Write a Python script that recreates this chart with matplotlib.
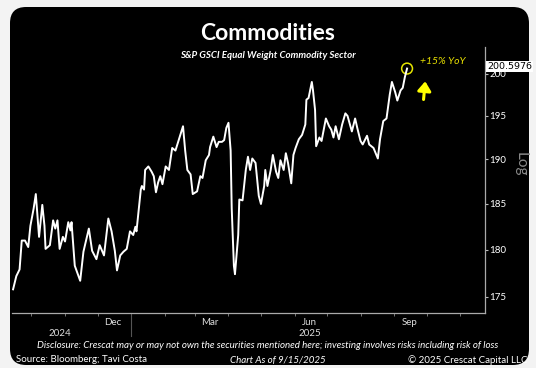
import pandas as pd
import numpy as np
import matplotlib.pyplot as plt
import matplotlib.dates as mdates
from matplotlib.patches import FancyBboxPatch, Ellipse
from matplotlib.ticker import FixedLocator, FixedFormatter, NullLocator

plt.rcParams['font.family'] = ['Lato', 'DejaVu Sans']

# S&P GSCI Equal Weight Commodity Sector
start = pd.Timestamp('2024-09-13')
day_offsets = [1, 4, 7, 9, 12, 15, 17, 20, 22, 23, 25, 28, 30, 31, 35, 38, 40, 42, 44, 47,
               49, 52, 54, 55, 58, 63, 66, 71, 74, 78, 81, 85, 89, 92, 95, 97, 100, 103, 106, 109,
               112, 114, 115, 119, 120, 122, 123, 126, 129, 131, 133, 135, 137, 139, 142, 145, 148, 151, 152, 156,
               158, 160, 162, 165, 167, 171, 174, 176, 179, 182, 183, 186, 189, 191, 194, 196, 198, 200, 202, 203,
               205, 206, 209, 210, 213, 216, 218, 220, 222, 225, 228, 230, 233, 234, 236, 239, 241, 244, 246, 248,
               251, 253, 255, 258, 260, 262, 265, 268, 271, 272, 274, 277, 278, 280, 281, 284, 286, 290, 293, 295,
               297, 299, 302, 305, 308, 310, 314, 317, 319, 322, 324, 328, 330, 334, 338, 340, 343, 346, 349, 351,
               354, 356, 359, 361, 363, 365]
prices = [175.8, 177.2, 177.9, 181.0, 181.0, 180.3, 182.6, 184.5, 186.1, 184.5, 181.4, 184.9, 182.6, 180.1, 180.5, 183.2, 182.3, 183.2, 180.1, 181.4,
          180.9, 183.0, 182.1, 183.0, 178.3, 176.7, 179.8, 182.3, 179.9, 179.0, 180.5, 179.4, 183.4, 182.0, 179.9, 177.8, 179.4, 179.8, 180.1, 182.0,
          181.6, 182.5, 182.0, 186.6, 187.0, 186.6, 188.8, 189.2, 188.6, 188.1, 186.3, 187.4, 188.1, 187.2, 189.2, 188.8, 191.3, 191.0, 191.4, 193.0,
          193.8, 191.0, 188.8, 188.3, 186.1, 186.4, 188.1, 187.9, 189.9, 190.5, 191.4, 192.6, 191.4, 192.0, 192.0, 192.2, 193.6, 194.2, 191.0, 184.5,
          178.3, 177.4, 181.6, 185.5, 185.4, 188.8, 190.3, 188.8, 190.1, 189.6, 185.9, 185.0, 187.0, 188.8, 187.0, 188.8, 190.5, 188.6, 187.9, 189.9,
          188.8, 190.7, 189.6, 187.3, 190.5, 191.3, 192.3, 192.8, 194.0, 196.9, 197.1, 199.0, 198.1, 195.7, 191.5, 192.5, 192.1, 194.7, 193.8, 193.4,
          192.5, 193.8, 192.3, 194.0, 195.3, 195.0, 193.2, 194.7, 193.6, 192.1, 191.7, 192.7, 191.7, 191.3, 190.1, 192.3, 194.4, 194.7, 197.5, 199.0,
          197.8, 196.8, 198.0, 198.3, 199.6, 200.6]
last_value = 200.5976

y_ticks = [175, 180, 185, 190, 195, 200]
month_labels = ['Dec', 'Mar', 'Jun', 'Sep']
month_label_dates = ['2024-12-15', '2025-03-15', '2025-06-15', '2025-09-15']
year_labels = ['2024', '2025']
year_label_dates = ['2024-10-27', '2025-06-15']

dates = start + pd.to_timedelta(day_offsets, unit='D')

fig = plt.figure(figsize=(5.36, 3.68), dpi=100)
fig.patch.set_facecolor('#f3f3f3')

# black rounded panel
panel = FancyBboxPatch((10 / 536, 3 / 368), 519 / 536, 358 / 368,
                       boxstyle='round,pad=0,rounding_size=0.03',
                       transform=fig.transFigure, facecolor='black',
                       edgecolor='none', zorder=-5, mutation_aspect=536 / 368)
fig.patches.append(panel)

ax = fig.add_axes([12 / 536, 1 - 313 / 368, 473 / 536, 266 / 368])
ax.set_zorder(2)
ax.set_facecolor('black')
ax.plot(dates, prices, color='white', lw=1.4)

ax.set_yscale('log')
ax.set_ylim(173.33, 203.2)
ax.yaxis.set_major_locator(FixedLocator(y_ticks))
ax.yaxis.set_major_formatter(FixedFormatter([str(t) for t in y_ticks]))
ax.yaxis.set_minor_locator(NullLocator())
ax.yaxis.tick_right()
ax.tick_params(axis='y', colors='#bbbbbb', labelcolor='white', labelsize=7,
               length=2, width=0.8, pad=1)

ax.set_xlim(pd.Timestamp('2024-09-13'), pd.Timestamp('2025-11-24'))
ax.xaxis.set_major_locator(mdates.MonthLocator())
ax.xaxis.set_major_formatter(plt.NullFormatter())
ax.tick_params(axis='x', colors='#888888', length=2, width=0.6)

for s in ['left', 'top']:
    ax.spines[s].set_visible(False)
for s in ['bottom', 'right']:
    ax.spines[s].set_color('#aaaaaa')
    ax.spines[s].set_linewidth(0.9)

trans = ax.get_xaxis_transform()
for lab, d in zip(month_labels, month_label_dates):
    ax.text(pd.Timestamp(d), -0.018, lab, transform=trans, ha='center', va='top',
            color='#dddddd', fontsize=7)
for lab, d in zip(year_labels, year_label_dates):
    ax.text(pd.Timestamp(d), -0.06, lab, transform=trans, ha='center', va='top',
            color='#dddddd', fontsize=7)
ax.plot([pd.Timestamp('2025-01-01')] * 2, [0, -0.085], transform=trans,
        color='#555555', lw=0.8, clip_on=False)

# last value box (covers the 200 tick label)
ax.annotate(f'{last_value:.4f}', xy=(1, last_value), xycoords=('axes fraction', 'data'),
            xytext=(1.5, 1.5), textcoords='offset points', ha='left', va='center',
            fontsize=6.8, color='black', family='DejaVu Sans', zorder=5,
            bbox=dict(boxstyle='square,pad=0.12', fc='white', ec='none'))

ax.text(1.06, 0.56, 'Log', transform=ax.transAxes, rotation=-90, ha='left',
        va='center', color='#8a8a8a', fontsize=11)

# annotation on latest point
ax.add_patch(Ellipse((mdates.date2num(dates[-1]), last_value), 10, 1.3,
                     fill=False, ec='#e6e600', lw=1.1))
ax.text(pd.Timestamp('2025-09-25'), 201.5, '+15% YoY', color='#e8e000',
        fontsize=7.5, style='italic', va='center', ha='left')
ax.annotate('', xy=(pd.Timestamp('2025-09-30'), 199.4), xytext=(pd.Timestamp('2025-09-28'), 196.6),
            arrowprops=dict(arrowstyle='-|>,head_width=0.4,head_length=0.55',
                            color='#ffff00', lw=2.2))

fig.text(0.5, 1 - 33 / 368, 'Commodities', ha='center', va='center', color='white',
         fontsize=16.5, fontweight='bold')
fig.text(0.5, 1 - 56 / 368, 'S&P GSCI Equal Weight Commodity Sector', ha='center',
         va='center', color='white', fontsize=7, fontweight='bold', style='italic')

fig.text(0.5, 1 - 346 / 368, 'Disclosure: Crescat may or may not own the securities mentioned here; '
         'investing involves risks including risk of loss', ha='center', va='center',
         color='white', fontsize=7, style='italic')
fig.text(16 / 536, 1 - 360 / 368, 'Source: Bloomberg; Tavi Costa', ha='left', va='center',
         color='white', fontsize=7)
fig.text(278 / 536, 1 - 360 / 368, 'Chart As of 9/15/2025', ha='center', va='center',
         color='white', fontsize=7, style='italic')
fig.text(527 / 536, 1 - 360 / 368, '\u00a9 2025 Crescat Capital LLC', ha='right', va='center',
         color='white', fontsize=7)

fig.savefig('out.png', dpi=100, facecolor=fig.get_facecolor())
